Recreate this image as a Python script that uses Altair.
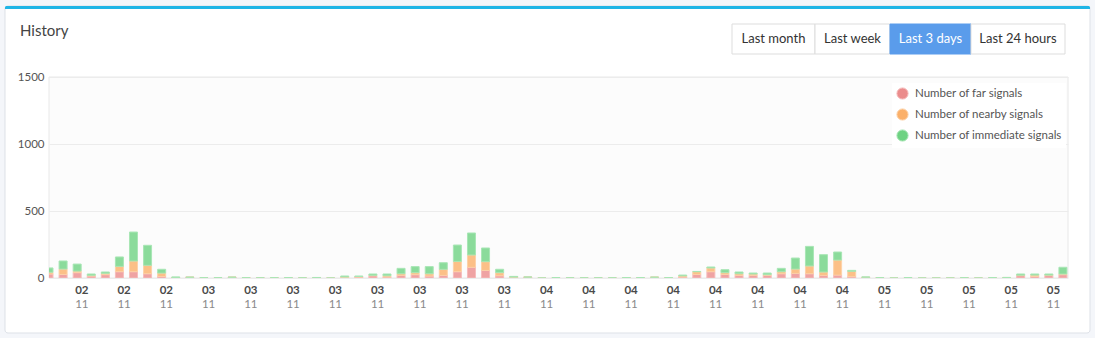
import altair as alt
import pandas as pd

# ---------------- data ----------------
series = ["Number of far signals", "Number of nearby signals", "Number of immediate signals"]
far = [30, 27, 40, 15, 25, 47, 47, 32, 12, 2, 6, 2, 2, 6, 2, 1, 2, 3, 1, 1, 0, 5, 7, 17,
       8, 20, 25, 15, 20, 47, 80, 57, 17, 5, 7, 0, 3, 1, 1, 1, 1, 3, 3, 6, 3, 8, 27, 47,
       27, 20, 20, 20, 32, 35, 32, 20, 22, 10, 2, 1, 0, 3, 0, 0, 0, 2, 0, 3, 1, 18, 12, 20, 25]
nearby = [13, 40, 12, 5, 10, 40, 80, 63, 25, 2, 0, 0, 0, 0, 0, 0, 0, 0, 0, 1, 0, 3, 4, 3,
          9, 12, 15, 17, 45, 77, 92, 65, 23, 2, 0, 0, 0, 0, 0, 0, 0, 0, 0, 0, 0, 8, 20, 28,
          13, 12, 10, 5, 15, 32, 58, 25, 112, 40, 4, 1, 0, 0, 0, 0, 0, 0, 0, 0, 3, 3, 10, 2, 5]
immediate = [32, 60, 52, 10, 10, 70, 216, 149, 28, 4, 0, 0, 0, 0, 0, 0, 0, 0, 0, 2, 0, 7, 4, 10,
             13, 40, 45, 53, 49, 122, 164, 102, 25, 5, 0, 0, 0, 0, 0, 0, 0, 0, 0, 0, 0, 6, 2, 7,
             22, 13, 7, 12, 25, 82, 146, 129, 60, 7, 2, 0, 0, 0, 0, 0, 0, 0, 0, 0, 0, 9, 8, 8, 50]
# readings are hourly at hh:40, first one on 02 Nov 12:40 (hours counted from 02 Nov 00:00)
start_hour = 12 + 40 / 60
hours = [start_hour + k for k in range(len(far))]

tick_hours = [15, 18, 21, 24, 27, 30, 33, 36, 39, 42, 45, 48, 51, 54, 57, 60, 63, 66, 69, 72, 75, 78, 81, 84]
tick_days = ["02"] * 3 + ["03"] * 8 + ["04"] * 8 + ["05"] * 5
tick_months = ["11"] * 24

buttons = ["Last month", "Last week", "Last 3 days", "Last 24 hours"]
active_button = "Last 3 days"

rows = []
for i, h in enumerate(hours):
    for j, (name, vals) in enumerate(zip(series, [far, nearby, immediate])):
        rows.append({"hour": h, "type": name, "order": j, "value": vals[i]})
df = pd.DataFrame(rows)
ticks = pd.DataFrame({"hour": tick_hours, "day": tick_days, "month": tick_months})

# ---------------- layout ----------------
OX, OY = 49, 77          # plot origin in page pixels
W, H = 1019, 201
FONT = "Lato"

def rel_x(v):
    return alt.value(v - OX)

def rel_y(v):
    return alt.value(v - OY)

one = alt.Data(values=[{"k": 1}])

card = alt.Chart(one).mark_rect(fill="white", stroke="#dde1e7", strokeWidth=1, cornerRadius=3).encode(
    x=rel_x(5), x2=rel_x(1090), y=rel_y(6), y2=rel_y(333))
topbar = alt.Chart(one).mark_rect(fill="#1fb5e6", cornerRadiusTopLeft=3, cornerRadiusTopRight=3).encode(
    x=rel_x(5), x2=rel_x(1090), y=rel_y(6), y2=rel_y(9))
title = alt.Chart(one).mark_text(text="History", align="left", baseline="middle", fontSize=15,
                                 color="#444444", font=FONT).encode(x=rel_x(20), y=rel_y(31))

edges = [732, 815, 890, 971, 1065]
btn_layers = []
for i, b in enumerate(buttons):
    act = b == active_button
    btn_layers.append(alt.Chart(one).mark_rect(
        fill="#5a9ceb" if act else "white", stroke="#5a9ceb" if act else "#dddddd", strokeWidth=1).encode(
        x=rel_x(edges[i]), x2=rel_x(edges[i + 1]), y=rel_y(24), y2=rel_y(54)))
for i, b in enumerate(buttons):
    act = b == active_button
    btn_layers.append(alt.Chart(one).mark_text(
        text=b, align="center", baseline="middle", fontSize=13, font=FONT,
        color="white" if act else "#333333").encode(
        x=rel_x((edges[i] + edges[i + 1]) / 2), y=rel_y(39)))

plotbg = alt.Chart(one).mark_rect(fill="#fcfcfc", stroke="#e8e8e8", strokeWidth=1).encode(
    x=alt.value(0), x2=alt.value(W), y=alt.value(0), y2=alt.value(H))

xscale = alt.Scale(domain=[start_hour, start_hour + 72.36], nice=False, zero=False, padding=0)
base_colors = ["#eb8c8c", "#fbb069", "#6ed282"]
stroke_colors = ["#f6bcbc", "#fdd2a8", "#a8e6b5"]

bars = alt.Chart(df).mark_bar(size=8, fillOpacity=0.8, strokeWidth=1, clip=True).encode(
    x=alt.X("hour:Q", scale=xscale,
            axis=alt.Axis(labels=False, ticks=False, domain=False, grid=False, title=None)),
    y=alt.Y("value:Q", stack="zero",
            scale=alt.Scale(domain=[0, 1500], nice=False),
            axis=alt.Axis(values=[0, 500, 1000, 1500], format="d", title=None, ticks=False, domain=False,
                          grid=True, gridColor="#ececec", labelColor="#555555", labelFontSize=11.5,
                          labelFont=FONT, labelPadding=5, zindex=1)),
    color=alt.Color("type:N", scale=alt.Scale(domain=series, range=base_colors),
                    legend=alt.Legend(title=None, orient="none", legendX=843, legendY=6,
                                      fillColor="white", padding=4, rowPadding=4,
                                      symbolType="circle", symbolSize=125, symbolOpacity=1,
                                      symbolStrokeColor="#c8c8c8", symbolStrokeWidth=1,
                                      labelFontSize=11.5, labelColor="#555555", labelFont=FONT,
                                      labelOffset=6, zindex=2)),
    stroke=alt.Stroke("type:N", scale=alt.Scale(domain=series, range=stroke_colors), legend=None),
    order=alt.Order("order:Q", sort="ascending"),
)

day_text = alt.Chart(ticks).mark_text(fontSize=11.5, fontWeight="bold", color="#4a4a4a",
                                      font=FONT, baseline="middle").encode(
    x=alt.X("hour:Q", scale=xscale), y=alt.value(214), text="day:N")
month_text = alt.Chart(ticks).mark_text(fontSize=11.5, color="#8a8a8a", font=FONT,
                                        baseline="middle").encode(
    x=alt.X("hour:Q", scale=xscale), y=alt.value(228), text="month:N")

chart = alt.layer(card, topbar, title, *btn_layers, plotbg, bars, day_text, month_text).properties(
    width=W, height=H,
    padding={"left": OX, "top": OY, "right": 1095 - OX - W, "bottom": 338 - OY - H},
    autosize=alt.AutoSizeParams(type="none"),
    background="#f4f6fa",
).configure_view(stroke=None)

chart.save("out.html", embed_options={"renderer": "svg", "actions": False})
